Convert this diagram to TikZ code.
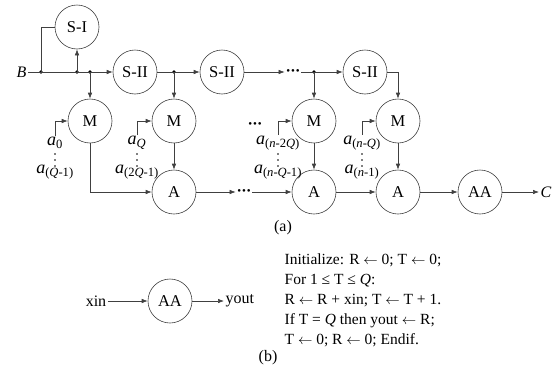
\documentclass[tikz,border=0pt]{standalone}
\usepackage{fontspec}
\setmainfont{Liberation Serif}
\usetikzlibrary{arrows.meta}

\tikzset{
    blk/.style={circle, draw=black!75, line width=0.6pt, minimum size=44pt, inner sep=0pt,
        font=\fontsize{16.5}{19}\selectfont},
    wire/.style={draw=black!75, line width=0.6pt},
    arr/.style={wire, -{Latex[length=6pt,width=4.5pt]}},
    junc/.style={circle, fill=black, inner sep=0pt, minimum size=3.6pt},
    lbl/.style={font=\fontsize{16}{19}\selectfont, inner sep=1.5pt},
    coef/.style={font=\fontsize{18}{20}\selectfont, inner sep=1pt},
}
\newcommand{\asub}[1]{\textit{a}\textsubscript{#1}}
\newcommand{\hdots}{{\fontsize{11}{11}\selectfont\textbullet\hspace{0.9pt}\textbullet\hspace{0.9pt}\textbullet}}
\newcommand{\assign}{$\leftarrow$}

\begin{document}
\begin{tikzpicture}[x=1pt, y=-1pt]
    \useasboundingbox (0,0) rectangle (555,370);

    % Blocks of (a)
    \node[blk] (si) at (77,27) {S-I};
    \node[blk] (s1) at (135,72) {S-II};
    \node[blk] (s2) at (222,72) {S-II};
    \node[blk] (s3) at (365,72) {S-II};
    \node[blk] (m1) at (90,121) {M};
    \node[blk] (m2) at (174,121) {M};
    \node[blk] (m3) at (314,121) {M};
    \node[blk] (m4) at (398,121) {M};
    \node[blk] (a1) at (174,192) {A};
    \node[blk] (a2) at (314,192) {A};
    \node[blk] (a3) at (398,192) {A};
    \node[blk] (aa) at (480,192) {AA};

    % Input and output
    \node[lbl, anchor=east] (b) at (28,72) {\textit{B}};
    \node[lbl, anchor=west] (c) at (539,192) {\textit{C}};

    % Branch points on the input line
    \coordinate (j1) at (41,72);
    \coordinate (j2) at (si |- s1);
    \coordinate (j3) at (m1 |- s1);
    \coordinate (j4) at (m2 |- s1);
    \coordinate (j5) at (m3 |- s1);
    \foreach \j in {j1,j2,j3,j4,j5} {
        \node[junc] at (\j) {};
    }

    % Input line and S blocks
    \draw[wire] (b) -- (j1);
    \draw[arr] (j1) -- (s1);
    \draw[wire] (j1) |- (si);
    \draw[arr] (j2) -- (si);
    \draw[arr] (j3) -- (m1);
    \draw[arr] (s1) -- (s2);
    \draw[arr] (j4) -- (m2);
    \node[lbl] (tdots) at (293,72) {\hdots};
    \draw[arr] (s2) -- (tdots);
    \draw[wire] (tdots) -- (j5);
    \draw[arr] (j5) -- (s3);
    \draw[arr] (j5) -- (m3);
    \draw[arr] (s3.east) -| (m4.north);

    % M blocks to A blocks
    \draw[arr] (m1) |- (a1);
    \draw[arr] (m2) -- (a1);
    \draw[arr] (m3) -- (a2);
    \draw[arr] (m4) -- (a3);
    \node[lbl] (mdots) at (255,125) {\hdots};

    % Accumulation line
    \node[lbl] (bdots) at (244,192) {\hdots};
    \draw[arr] (a1) -- (bdots);
    \draw[arr] (bdots) -- (a2);
    \draw[arr] (a2) -- (a3);
    \draw[arr] (a3) -- (aa);
    \draw[arr] (aa) -- (c);

    % Coefficients fed into the M blocks
    \foreach \m/\x/\first/\last in {m1/55/0/(\textit{Q}-1), m2/137/\textit{Q}/(2\textit{Q}-1),
            m3/278/(\textit{n}-2\textit{Q})/(\textit{n}-\textit{Q}-1), m4/362/(\textit{n}-\textit{Q})/(\textit{n}-1)} {
        \node[coef] (\m-first) at (\x,143) {\asub{\first}};
        \node[coef] (\m-last) at (\x,172) {\asub{\last}};
        \draw[arr] (\m-first.north) |- (\m);
        \foreach \y in {154,160,166} {
            \fill (\x,\y) circle (0.9pt);
        }
    }

    \node[lbl] (capa) at (283,228) {(a)};

    % Part (b)
    \node[lbl] (xin) at (96,301) {xin};
    \node[blk] (aab) at (170,301) {AA};
    \node[lbl, anchor=west] (yout) at (224,301) {yout};
    \draw[arr] (xin) -- (aab);
    \draw[arr] (aab) -- (yout);
    \node[lbl, anchor=west, align=left, font=\fontsize{15.5}{20}\selectfont] (algo) at (283,300)
        {Initialize: R \assign{} 0; T \assign{} 0;\\
         For 1 ≤ T ≤ \textit{Q}:\\
         R \assign{} R + xin; T \assign{} T + 1.\\
         If T = \textit{Q} then yout \assign{} R;\\
         T \assign{} 0; R \assign{} 0; Endif.};
    \node[lbl] (capb) at (268,358) {(b)};
\end{tikzpicture}
\end{document}
